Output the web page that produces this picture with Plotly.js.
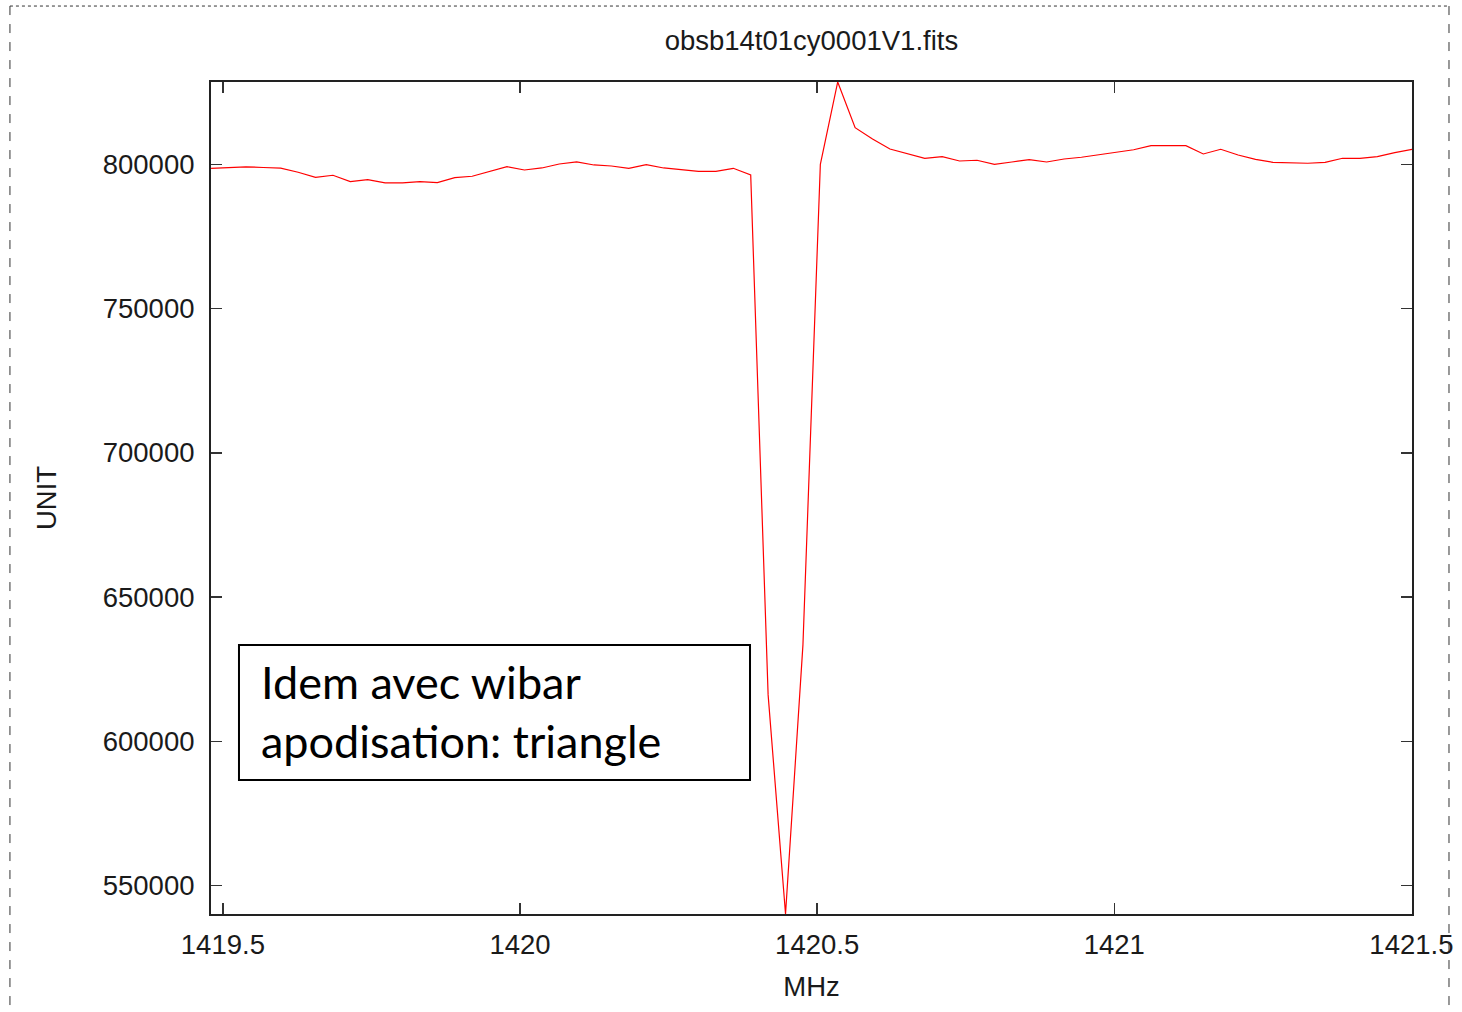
<!DOCTYPE html>
<html>
<head>
<meta charset="utf-8">
<script src="https://cdn.plot.ly/plotly-3.0.1.min.js"></script>
<style>html,body{margin:0;padding:0;background:#fff;}#chart{width:1462px;height:1012px;}</style>
</head>
<body>
<div id="chart"></div>
<script>
// Frequency channels (MHz)
const freqMHz = [
  1419.4801, 1419.5094, 1419.5387, 1419.5680, 1419.5973, 1419.6266, 1419.6559, 1419.6852, 1419.7144, 1419.7437,
  1419.7730, 1419.8023, 1419.8316, 1419.8609, 1419.8902, 1419.9195, 1419.9488, 1419.9781, 1420.0074, 1420.0367,
  1420.0660, 1420.0953, 1420.1245, 1420.1538, 1420.1831, 1420.2124, 1420.2417, 1420.2710, 1420.3003, 1420.3296,
  1420.3589, 1420.3882, 1420.4175, 1420.4468, 1420.4761, 1420.5054, 1420.5346, 1420.5639, 1420.5932, 1420.6225,
  1420.6518, 1420.6811, 1420.7104, 1420.7397, 1420.7690, 1420.7983, 1420.8276, 1420.8569, 1420.8862, 1420.9155,
  1420.9447, 1420.9740, 1421.0033, 1421.0326, 1421.0619, 1421.0912, 1421.1205, 1421.1498, 1421.1791, 1421.2084,
  1421.2377, 1421.2670, 1421.2963, 1421.3256, 1421.3548, 1421.3841, 1421.4134, 1421.4427, 1421.4720, 1421.5013
];
// Spectrum values (UNIT)
const spectrum = [
  798680, 799060, 799200, 798960, 798720, 797300, 795560, 796260, 794040, 794730,
  793590, 793590, 794040, 793690, 795420, 795910, 797570, 799240, 798090, 798790,
  800170, 800870, 799830, 799480, 798680, 799930, 798790, 798340, 797640, 797640,
  798680, 796360, 616080, 540100, 633410, 800070, 828600, 812760, 808840, 805370,
  803640, 802150, 802740, 801210, 801460, 800070, 800870, 801660, 800870, 801910,
  802500, 803400, 804160, 805100, 806520, 806520, 806520, 803640, 805270, 803290,
  801800, 800760, 800520, 800420, 800760, 802150, 802150, 802700, 804090, 805270
];
const xTickVals = [1419.5, 1420, 1420.5, 1421, 1421.5];
const xTickText = ["1419.5", "1420", "1420.5", "1421", "1421.5"];
const yTickVals = [550000, 600000, 650000, 700000, 750000, 800000];
const yTickText = ["550000", "600000", "650000", "700000", "750000", "800000"];
const chartTitle = "obsb14t01cy0001V1.fits";
const noteText = "Idem avec wibar<br>apodisation: triangle";

const axisFont = {family: "Liberation Sans, Arial, sans-serif", size: 27.5, color: "#1a1a1a"};

const trace = {
  x: freqMHz, y: spectrum, type: "scatter", mode: "lines",
  line: {color: "#ff0000", width: 1.2}, hoverinfo: "x+y", showlegend: false
};

const layout = {
  width: 1462, height: 1012,
  paper_bgcolor: "#ffffff", plot_bgcolor: "#ffffff",
  margin: {l: 211, r: 50, t: 82, b: 98},
  title: {text: chartTitle, font: axisFont, x: 0.555, xref: "container", xanchor: "center", y: 0.9605, yref: "container", yanchor: "middle"},
  xaxis: {
    range: [1419.48, 1421.501], tickvals: xTickVals, ticktext: xTickText,
    ticks: "inside", ticklen: 11, tickwidth: 1.5, tickcolor: "#333",
    showline: true, linecolor: "#222", linewidth: 2, mirror: "ticks",
    showgrid: false, zeroline: false, tickfont: axisFont, ticklabelstandoff: 5,
    title: {text: "MHz", font: axisFont, standoff: 18}
  },
  yaxis: {
    range: [540100, 828600], tickvals: yTickVals, ticktext: yTickText,
    ticks: "inside", ticklen: 11, tickwidth: 1.5, tickcolor: "#333",
    showline: true, linecolor: "#222", linewidth: 2, mirror: "ticks",
    showgrid: false, zeroline: false, tickfont: axisFont, ticklabelstandoff: 9,
    title: {text: "UNIT", font: axisFont, standoff: 38}
  },
  shapes: [
    {type: "rect", xref: "paper", yref: "paper", x0: 0.0233, x1: 0.4488, y0: 0.1611, y1: 0.3233,
     fillcolor: "#ffffff", line: {color: "#000", width: 2}, layer: "above"},
    {type: "line", xref: "paper", yref: "paper", x0: -0.1674, x1: 1.0308, y0: 1.0913, y1: 1.0913,
     line: {color: "#333", width: 1, dash: "dot"}},
    {type: "line", xref: "paper", yref: "paper", x0: -0.1674, x1: -0.1674, y0: 1.0913, y1: -0.13,
     line: {color: "#333", width: 1, dash: "dash"}},
    {type: "line", xref: "paper", yref: "paper", x0: 1.0308, x1: 1.0308, y0: 1.0913, y1: -0.13,
     line: {color: "#333", width: 1, dash: "dash"}}
  ],
  annotations: [
    {text: noteText, xref: "paper", yref: "paper", x: 0.0396, y: 0.2430, xanchor: "left", yanchor: "middle",
     align: "left", showarrow: false, font: {family: "Lato, Carlito, sans-serif", size: 45, color: "#000"}}
  ]
};

Plotly.newPlot("chart", [trace], layout, {displayModeBar: false, staticPlot: true});
</script>
</body>
</html>
